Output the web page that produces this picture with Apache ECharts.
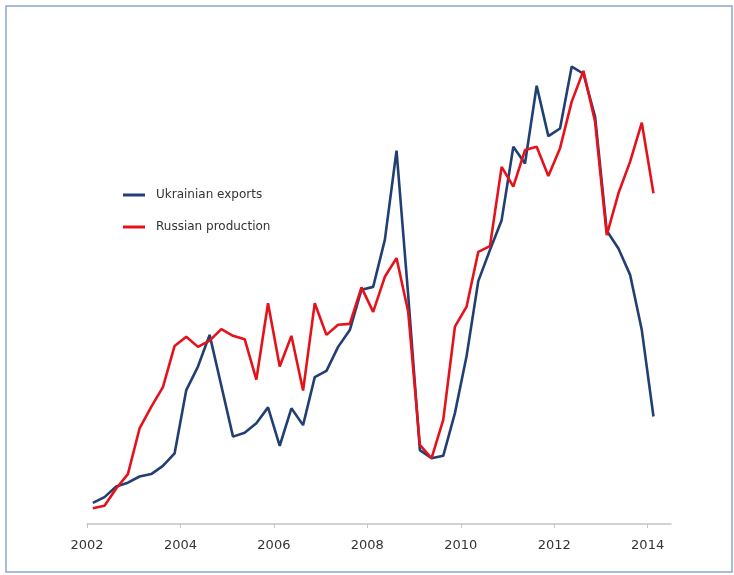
<!DOCTYPE html>
<html>
<head>
    <meta charset="utf-8">
    <title>Ukrainian exports vs Russian production</title>
    <script src="https://cdn.jsdelivr.net/npm/echarts@6/dist/echarts.min.js"></script>
    <style>
        body { margin: 0; background: #fff; }
    </style>
</head>
<body>
    <div id="main" style="width: 734px;height:575px;"></div>
    <script type="text/javascript">
        // quarterly series, first quarter of 2002 .. first quarter of 2014 (index, no units shown)
        var startYear = 2002;
        var yearTicks = [2002, 2004, 2006, 2008, 2010, 2012, 2014];
        var seriesNames = ["Ukrainian exports", "Russian production"];

        var ukrainianExports = [
            4.4, 5.6, 7.8, 8.6, 9.9, 10.4, 12.1, 14.7,
            27.9, 32.8, 39.4, 28.8, 18.2, 19.0, 21.0, 24.3,
            16.3, 24.1, 20.6, 30.6, 31.9, 36.9, 40.4, 48.8,
            49.4, 59.2, 77.8, 47.7, 15.4, 13.7, 14.2, 23.1,
            35.0, 50.6, 57.1, 63.3, 78.6, 75.1, 91.3, 80.8,
            82.4, 95.3, 93.8, 84.9, 61.1, 57.4, 51.9, 40.4,
            22.4
        ];
        var russianProduction = [
            3.3, 3.8, 7.4, 10.4, 19.9, 24.4, 28.5, 37.1,
            39.0, 36.9, 38.2, 40.6, 39.2, 38.5, 30.1, 46.0,
            32.8, 39.2, 27.8, 46.0, 39.4, 41.5, 41.7, 49.3,
            44.2, 51.5, 55.4, 44.2, 16.5, 13.7, 21.7, 41.1,
            45.3, 56.7, 57.9, 74.4, 70.3, 77.9, 78.6, 72.5,
            78.3, 88.0, 94.4, 83.8, 60.2, 68.9, 75.5, 83.6,
            68.9
        ];

        // place each quarter at its mid point on the year axis
        function toPairs(values) {
            return values.map(function (v, i) {
                return [startYear + 0.125 + i * 0.25, v];
            });
        }

        var myChart = echarts.init(document.getElementById('main'));

        var option = {
            backgroundColor: "#fff",
            animation: false,
            graphic: [
                {
                    type: 'rect',
                    shape: { x: 6, y: 6, width: 726, height: 566 },
                    style: { fill: 'none', stroke: '#8aa6cc', lineWidth: 1.5 }
                }
            ],
            grid: {
                left: 87,
                right: 63,
                top: 44,
                bottom: 51
            },
            legend: {
                orient: "vertical",
                left: 118,
                top: 182,
                icon: "rect",
                itemWidth: 22,
                itemHeight: 3,
                itemGap: 16,
                selectedMode: false,
                data: seriesNames,
                textStyle: {
                    fontFamily: "DejaVu Sans",
                    fontSize: 12,
                    color: "#333",
                    lineHeight: 16,
                    padding: [0, 0, 0, 6]
                }
            },
            xAxis: {
                type: "value",
                min: 2002,
                max: 2014.5,
                interval: 2,
                splitLine: { show: false },
                axisLine: {
                    lineStyle: { color: "#c4c4c4", width: 1.5 }
                },
                axisTick: {
                    show: true,
                    length: 4,
                    customValues: yearTicks,
                    lineStyle: { color: "#c4c4c4" }
                },
                axisLabel: {
                    customValues: yearTicks,
                    margin: 15,
                    fontFamily: "DejaVu Sans",
                    fontSize: 13,
                    color: "#333",
                    formatter: function (v) {
                        return String(v);
                    }
                }
            },
            yAxis: {
                type: "value",
                min: 0,
                max: 100,
                show: false,
                splitLine: { show: false }
            },
            series: [
                {
                    name: seriesNames[0],
                    type: "line",
                    symbol: "none",
                    color: "#223f73",
                    lineStyle: { width: 2.6, color: "#223f73" },
                    data: toPairs(ukrainianExports)
                },
                {
                    name: seriesNames[1],
                    type: "line",
                    symbol: "none",
                    color: "#e5121b",
                    lineStyle: { width: 2.6, color: "#e5121b" },
                    data: toPairs(russianProduction)
                }
            ]
        };

        myChart.setOption(option);
    </script>
</body>
</html>
